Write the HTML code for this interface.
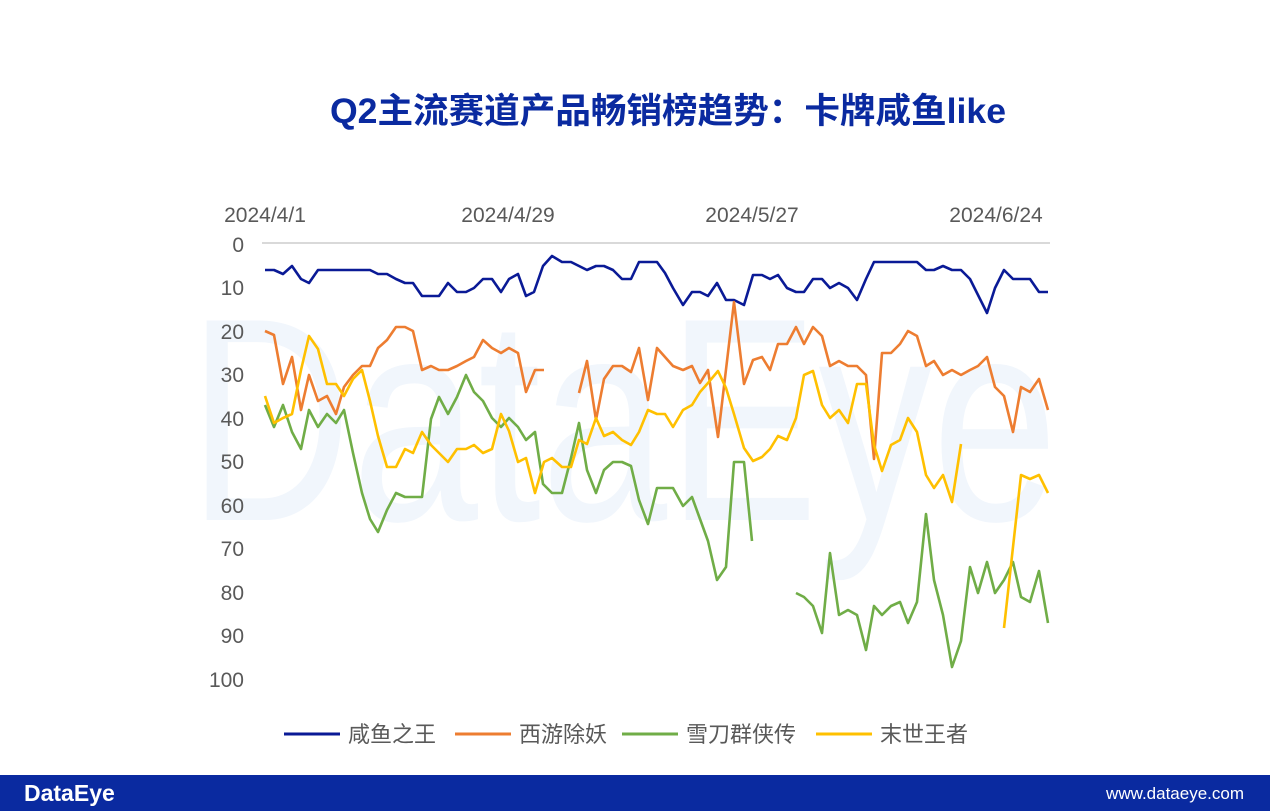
<!DOCTYPE html>
<html><head><meta charset="utf-8"><style>
html,body{margin:0;padding:0;background:#fff;}
body{width:1270px;height:811px;position:relative;overflow:hidden;font-family:"Liberation Sans","Noto Sans CJK SC",sans-serif;}
</style></head><body>
<svg width="1270" height="811" xmlns="http://www.w3.org/2000/svg" style="position:absolute;left:0;top:0">
<text x="188" y="520" font-family="Liberation Sans, sans-serif" font-size="290" fill="#f1f6fc" textLength="870" lengthAdjust="spacingAndGlyphs">DataEye</text>
<text x="668" y="123" text-anchor="middle" font-family="Liberation Sans, Noto Sans CJK SC, sans-serif" font-size="35" font-weight="bold" fill="#0a2aa0" textLength="676" lengthAdjust="spacingAndGlyphs">Q2主流赛道产品畅销榜趋势：卡牌咸鱼like</text>
<g font-family="Liberation Sans, sans-serif" font-size="21" fill="#595959">
<text x="265" y="222" text-anchor="middle">2024/4/1</text>
<text x="508" y="222" text-anchor="middle">2024/4/29</text>
<text x="752" y="222" text-anchor="middle">2024/5/27</text>
<text x="996" y="222" text-anchor="middle">2024/6/24</text>
<g text-anchor="end">
<text x="244" y="252">0</text><text x="244" y="295">10</text><text x="244" y="339">20</text><text x="244" y="382">30</text><text x="244" y="426">40</text><text x="244" y="469">50</text><text x="244" y="513">60</text><text x="244" y="556">70</text><text x="244" y="600">80</text><text x="244" y="643">90</text><text x="244" y="687">100</text>
</g></g>
<line x1="262" y1="243" x2="1050" y2="243" stroke="#d9d9d9" stroke-width="2"/>
<g fill="none" stroke-width="2.6" stroke-linejoin="round">
<polyline stroke="#0a1a96" points="265,270 274,270 283,274 292,266 301,279 309,283 318,270 370,270 378,274 387,274 396,279 405,283 413,283 422,296 439,296 448,283 457,292 466,292 474,288 483,279 492,279 501,292 509,279 518,274 526,296 534,292 543,266 552,256 562,262 571,262 579,266 587,270 596,266 604,266 613,270 622,279 631,279 639,262 657,262 665,273 673,288 683,305 692,292 700,292 708,296 717,283 726,300 734,300 744,305 753,275 762,275 770,279 778,275 787,288 796,292 804,292 813,279 822,279 830,288 839,283 848,288 857,300 866,279 874,262 917,262 926,270 934,270 943,266 952,270 961,270 970,279 987,313 995,288 1004,270 1013,279 1030,279 1039,292 1048,292"/>
<polyline stroke="#ed7d31" points="265,331 274,335 283,384 292,357 301,410 309,375 318,401 327,396 336,414 344,387 353,375 362,366 370,366 378,348 387,340 396,327 405,327 413,331 422,370 431,366 439,370 448,370 457,366 466,361 474,357 483,340 492,348 501,353 509,348 518,353 526,392 535,370 544,370"/>
<polyline stroke="#ed7d31" points="579,393 587,361 596,420 604,379 613,366 622,366 631,372 639,348 648,400 657,348 665,357 673,366 683,370 692,366 700,383 708,370 718,437 734,302 744,384 753,360 762,357 770,370 778,344 787,344 796,327 804,344 813,327 822,336 830,366 839,361 848,366 857,366 866,375 874,459 882,353 891,353 900,344 908,331 917,336 926,366 934,361 943,375 952,370 961,375 970,370 978,366 987,357 995,387 1004,396 1013,432 1021,387 1030,392 1039,379 1048,410"/>
<polyline stroke="#70ad47" points="265,405 274,427 283,405 292,432 301,449 309,410 318,427 327,414 336,423 344,410 353,453 362,493 370,519 378,532 387,510 396,493 405,497 422,497 431,419 439,397 448,414 457,397 466,375 474,392 483,401 492,418 501,427 509,418 518,427 526,440 535,432 543,484 552,493 562,493 571,458 579,423 587,470 596,493 604,470 613,462 622,462 631,466 639,500 648,524 657,488 673,488 683,506 692,497 700,519 708,541 717,580 726,567 734,462 744,462 752,541"/>
<polyline stroke="#70ad47" points="796,593 804,597 813,606 822,633 830,553 839,615 848,610 857,615 866,650 874,606 882,615 891,606 900,602 908,623 917,602 926,514 934,580 943,615 952,667 961,641 970,567 978,593 987,562 995,593 1004,580 1013,562 1021,597 1030,602 1039,571 1048,623"/>
<polyline stroke="#ffc000" points="265,396 274,423 283,418 292,414 301,370 309,336 318,349 327,384 336,384 344,396 353,379 362,370 370,401 378,436 387,467 396,467 405,449 413,453 422,432 431,445 439,453 448,462 457,449 466,449 474,445 483,453 492,449 501,414 509,431 518,462 526,458 535,493 544,462 552,458 562,467 571,467 579,440 587,444 596,418 604,436 613,432 622,440 631,445 639,432 648,410 657,414 665,414 673,427 683,410 692,405 700,392 708,383 718,371 726,388 734,414 744,448 753,461 762,457 770,449 778,436 787,440 796,418 804,375 813,371 822,405 830,418 839,410 848,423 857,384 866,384 874,445 882,471 891,445 900,440 908,418 917,432 926,475 934,488 943,475 952,502 961,444"/>
<polyline stroke="#ffc000" points="1004,628 1021,475 1030,479 1039,475 1048,493"/>
</g>
<g font-family="Liberation Sans, Noto Sans CJK SC, sans-serif" font-size="22" fill="#595959">
<line x1="284" y1="734" x2="340" y2="734" stroke="#0a1a96" stroke-width="3"/><text x="348" y="742">咸鱼之王</text>
<line x1="455" y1="734" x2="511" y2="734" stroke="#ed7d31" stroke-width="3"/><text x="519" y="742">西游除妖</text>
<line x1="622" y1="734" x2="678" y2="734" stroke="#70ad47" stroke-width="3"/><text x="686" y="742">雪刀群侠传</text>
<line x1="816" y1="734" x2="872" y2="734" stroke="#ffc000" stroke-width="3"/><text x="880" y="742">末世王者</text>
</g>
<rect x="0" y="775" width="1270" height="36" fill="#0a2aa0"/>
<text x="24" y="801" font-family="Liberation Sans, sans-serif" font-size="23" font-weight="bold" fill="#fff">DataEye</text>
<text x="1244" y="799" text-anchor="end" font-family="Liberation Sans, sans-serif" font-size="17" fill="#fff">www.dataeye.com</text>
</svg>
</body></html>
